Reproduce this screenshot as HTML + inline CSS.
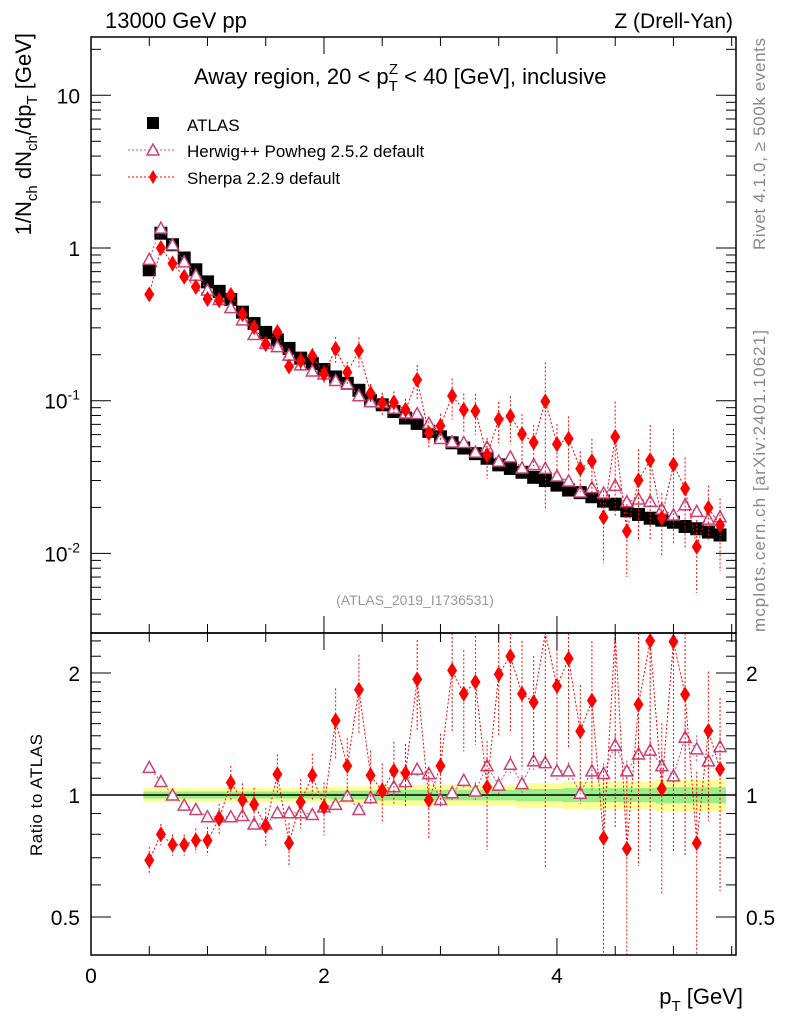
<!DOCTYPE html>
<html><head><meta charset="utf-8"><style>
html,body{margin:0;padding:0;background:#fff;}
svg{display:block;font-family:"Liberation Sans",sans-serif;}
</style></head><body>
<svg id="c" width="786" height="1024" viewBox="0 0 786 1024" xmlns="http://www.w3.org/2000/svg">
<g id="bands"></g>
<g id="marks"></g>
<g id="axes"></g>
<text x="105" y="28" font-size="22">13000 GeV pp</text>
<text x="733" y="28" font-size="21" text-anchor="end">Z (Drell-Yan)</text>
<text x="194" y="84" font-size="22">Away region, 20 &lt; p<tspan font-size="15" dy="7">T</tspan><tspan font-size="15" dx="-9" dy="-17">Z</tspan><tspan dy="10"> &lt; 40 [GeV], inclusive</tspan></text>
<g>
<rect x="147" y="117" width="12" height="12" fill="#000"/>
<text x="187" y="131" font-size="17">ATLAS</text>
<line x1="128" y1="150" x2="176" y2="150" stroke="#d64a7c" stroke-dasharray="2,2"/>
<path d="M153,144 L159,155 L147,155 Z" fill="#fff" stroke="#c8427a" stroke-width="1.5"/>
<text x="187" y="157" font-size="17">Herwig++ Powheg 2.5.2 default</text>
<line x1="128" y1="177" x2="176" y2="177" stroke="#f00" stroke-dasharray="2,2"/>
<path d="M153,170 L157,177 L153,184 L149,177 Z" fill="#f00"/>
<text x="187" y="184" font-size="17">Sherpa 2.2.9 default</text>
</g>
<text x="415" y="605" font-size="14" fill="#999" text-anchor="middle">(ATLAS_2019_I1736531)</text>
<text transform="translate(765,38) rotate(-90)" font-size="17" fill="#888" text-anchor="end" textLength="212">Rivet 4.1.0, ≥ 500k events</text>
<text transform="translate(765,632) rotate(-90)" font-size="17" fill="#888" textLength="302">mcplots.cern.ch [arXiv:2401.10621]</text>
<text transform="translate(31,33) rotate(-90)" font-size="22" text-anchor="end">1/N<tspan font-size="15" dy="6">ch</tspan><tspan dy="-6"> dN</tspan><tspan font-size="15" dy="6">ch</tspan><tspan dy="-6">/dp</tspan><tspan font-size="15" dy="6">T</tspan><tspan dy="-6"> [GeV]</tspan></text>
<text transform="translate(42,856) rotate(-90)" font-size="17" textLength="122">Ratio to ATLAS</text>
<text x="743" y="1004" font-size="22" text-anchor="end">p<tspan font-size="15" dy="7">T</tspan><tspan dy="-7"> [GeV]</tspan></text>
</svg>
<script>
const xs=[0.5,0.6,0.7,0.8,0.9,1.0,1.1,1.2,1.3,1.4,1.5,1.6,1.7,1.8,1.9,2.0,2.1,2.2,2.3,2.4,2.5,2.6,2.7,2.8,2.9,3.0,3.1,3.2,3.3,3.4,3.5,3.6,3.7,3.8,3.9,4.0,4.1,4.2,4.3,4.4,4.5,4.6,4.7,4.8,4.9,5.0,5.1,5.2,5.3,5.4];
const atlas=[0.72,1.25,1.05,0.86,0.72,0.6,0.52,0.46,0.38,0.32,0.28,0.25,0.22,0.19,0.175,0.16,0.143,0.13,0.117,0.1,0.094,0.085,0.077,0.071,0.063,0.058,0.053,0.049,0.045,0.042,0.038,0.036,0.034,0.0315,0.03,0.028,0.026,0.025,0.0235,0.022,0.021,0.019,0.018,0.017,0.0165,0.016,0.015,0.0145,0.0138,0.0132];
const herwigRatio=[1.17,1.08,1.0,0.944,0.921,0.884,0.884,0.884,0.89,0.848,0.848,0.904,0.904,0.904,0.895,0.935,0.948,0.994,0.921,0.985,1.033,1.049,1.079,1.158,1.129,0.975,1.013,1.087,1.023,1.181,1.058,1.191,1.067,1.214,1.202,1.147,1.147,1.01,1.147,1.13,1.328,1.147,1.262,1.29,1.181,1.115,1.388,1.3,1.214,1.316];
const sherpaRatio=[0.69,0.80,0.754,0.754,0.773,0.772,0.873,1.073,0.971,0.948,0.838,1.125,0.761,0.961,1.119,0.934,1.527,1.18,1.819,1.119,1.023,1.147,1.132,1.93,0.971,1.18,2.03,1.778,1.90,1.046,1.986,2.20,1.778,1.695,3.3,1.857,2.17,1.436,1.711,0.783,2.76,0.737,1.673,2.4,1.036,2.39,1.77,0.761,1.44,1.158];
const sherpaErr=[0.08,0.06,0.06,0.06,0.07,0.08,0.09,0.1,0.1,0.1,0.11,0.12,0.12,0.14,0.13,0.15,0.2,0.17,0.22,0.15,0.17,0.18,0.18,0.25,0.2,0.2,0.3,0.28,0.3,0.3,0.3,0.35,0.35,0.3,0.8,0.35,0.4,0.3,0.4,0.5,0.7,0.5,0.6,0.7,0.45,0.7,0.6,0.5,0.4,0.5];
const herwigErr=[0.02,0.02,0.02,0.02,0.02,0.02,0.02,0.02,0.02,0.02,0.02,0.03,0.03,0.03,0.03,0.03,0.03,0.03,0.03,0.03,0.04,0.04,0.04,0.04,0.04,0.04,0.04,0.04,0.05,0.05,0.05,0.05,0.05,0.05,0.05,0.05,0.05,0.06,0.06,0.06,0.06,0.06,0.07,0.07,0.07,0.07,0.08,0.08,0.08,0.08];
const atlasRelErr=[0.02,0.02,0.02,0.02,0.02,0.02,0.02,0.02,0.02,0.02,0.02,0.02,0.02,0.02,0.02,0.02,0.025,0.025,0.025,0.025,0.03,0.03,0.03,0.03,0.03,0.03,0.03,0.03,0.03,0.03,0.03,0.03,0.035,0.035,0.035,0.035,0.04,0.04,0.04,0.04,0.04,0.04,0.04,0.04,0.045,0.045,0.045,0.045,0.045,0.045];
const xTickLabels=["0","2","4"];
const yTickLabels=["10^-2","10^-1","1","10"];
const rTickLabels=["0.5","1","2"];

const NS="http://www.w3.org/2000/svg";
const L=91,R=736,T=37,M=633,B=955;
const X=v=>L+(v-0)*(R-L)/5.537;
const Y=v=>248-152.7*Math.log10(v);
const YR=v=>795-122*Math.log2(v);
function el(tag,attrs,parent){const e=document.createElementNS(NS,tag);for(const k in attrs)e.setAttribute(k,attrs[k]);parent.appendChild(e);return e;}
const axes=document.getElementById('axes'),marks=document.getElementById('marks'),bands=document.getElementById('bands');

let up='',dn='';
xs.forEach((x,i)=>{const a=X(x-0.05),b=X(x+0.05);up+=`L${a},${YR(1+2*atlasRelErr[i])} L${b},${YR(1+2*atlasRelErr[i])} `;});
for(let i=xs.length-1;i>=0;i--){const a=X(xs[i]+0.05),b=X(xs[i]-0.05);dn+=`L${a},${YR(1-2*atlasRelErr[i])} L${b},${YR(1-2*atlasRelErr[i])} `;}
const by=el('path',{d:'M'+up.slice(1)+dn+'Z',fill:'#ffff99'},bands);


up='';dn='';
xs.forEach((x,i)=>{const a=X(x-0.05),b=X(x+0.05);up+=`L${a},${YR(1+atlasRelErr[i])} L${b},${YR(1+atlasRelErr[i])} `;});
for(let i=xs.length-1;i>=0;i--){const a=X(xs[i]+0.05),b=X(xs[i]-0.05);dn+=`L${a},${YR(1-atlasRelErr[i])} L${b},${YR(1-atlasRelErr[i])} `;}
const bg=el('path',{d:'M'+up.slice(1)+dn+'Z',fill:'#99ee88'},bands);


const ol=el('line',{x1:L,x2:R,y1:YR(1),y2:YR(1),stroke:'#000','stroke-width':1.5},bands);



function clipY(y,top,bot){return Math.max(top,Math.min(bot,y));}
function series(vals,errs,yf,top,bot,kind,color,name){
  let d='';
  vals.forEach((v,i)=>{const x=X(xs[i]),y=yf(v);d+=(i?'L':'M')+x+','+clipY(y,top,bot)+' ';});
  const ln=el('path',{d:d,fill:'none',stroke:color,'stroke-dasharray':'2,2','stroke-width':1},marks);
  
  
  vals.forEach((v,i)=>{
    const x=X(xs[i]),y=yf(v);
    const e1=clipY(yf(v*(1+errs[i])),top,bot),e2=clipY(yf(Math.max(v*(1-errs[i]),1e-6)),top,bot);
    const eb=el('line',{x1:x,x2:x,y1:e1,y2:e2,stroke:color,'stroke-dasharray':'2,2'},marks);
    
    
    if(y<top-2||y>bot+2)return;
    let m;
    if(kind==='tri')m=el('path',{d:`M${x},${y-6} L${x+6},${y+5} L${x-6},${y+5} Z`,fill:'#fff',stroke:color,'stroke-width':1.5},marks);
    else m=el('path',{d:`M${x},${y-8} L${x+5},${y} L${x},${y+8} L${x-5},${y} Z`,fill:color},marks);
    
    
  });
}
const herwig=herwigRatio.map((r,i)=>r*atlas[i]);
const sherpa=sherpaRatio.map((r,i)=>r*atlas[i]);
atlas.forEach((v,i)=>{const x=X(xs[i]),y=Y(v);
  const s=el('rect',{x:x-6.5,y:y-6.5,width:13,height:13,fill:'#000'},marks);
  
  });
series(herwig,herwigErr,Y,T,M,'tri','#c8427a','herwig');
series(sherpa,sherpaErr,Y,T,M,'dia','#ff0000','sherpa');
series(herwigRatio,herwigErr,YR,M,B,'tri','#c8427a','herwig-ratio');
series(sherpaRatio,sherpaErr,YR,M,B,'dia','#ff0000','sherpa-ratio');

[[T,M],[M,B]].forEach(([t,b],k)=>{const f=el('rect',{x:L,y:t,width:R-L,height:b-t,fill:'none',stroke:'#000','stroke-width':1.5},axes);
  
  });
function tick(x1,y1,x2,y2){el('line',{x1,y1,x2,y2,stroke:'#000','stroke-width':1},axes);}
for(let v=0;v<=5.5;v+=0.5){const x=X(v),maj=Math.abs(v%2)<1e-9,len=maj?17:9;
  [[T,1],[M,-1],[M,1],[B,-1]].forEach(([y,s])=>tick(x,y,x,y+s*len));}
xTickLabels.forEach(s=>{const t=el('text',{x:X(+s),y:983,'font-size':21,'text-anchor':'middle'},axes);t.textContent=s;
  
  });
for(let e=-3;e<=1;e++)for(let m=1;m<10;m++){const v=m*Math.pow(10,e),y=Y(v);if(y<T||y>M)continue;const len=m===1?20:10;tick(L,y,L+len,y);tick(R,y,R-len,y);}
yTickLabels.forEach(s=>{const p=s.split('^');const v=p.length>1?Math.pow(10,+p[1]):+s;const y=Y(v)+8;
  const t=el('text',{x:80,y:y,'font-size':21,'text-anchor':'end'},axes);
  if(p.length>1){t.textContent=p[0];const ts=el('tspan',{'font-size':14,dy:-9},t);ts.textContent=p[1];}else t.textContent=s;
  
  });
[0.5,0.6,0.7,0.8,0.9,1,2].forEach(v=>{const y=YR(v),len=(v===0.5||v===1||v===2)?20:10;tick(L,y,L+len,y);tick(R,y,R-len,y);});
[1.1,1.2,1.3,1.4,1.5,1.6,1.7,1.8,1.9,2.2,2.4].forEach(v=>{const y=YR(v);tick(L,y,L+10,y);tick(R,y,R-10,y);});
rTickLabels.forEach(s=>{const y=YR(+s)+8;
  const t=el('text',{x:80,y:y,'font-size':21,'text-anchor':'end'},axes);t.textContent=s;
  
  
  const t2=el('text',{x:746,y:y,'font-size':21},axes);t2.textContent=s;
  
  });
</script>
</body></html>
